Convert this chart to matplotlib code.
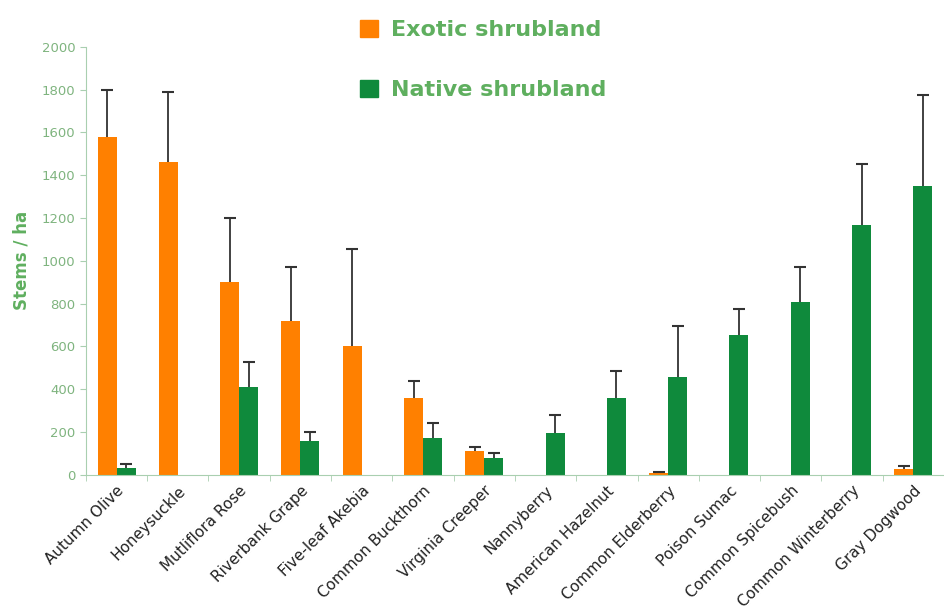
import numpy as np
import matplotlib.pyplot as plt
from matplotlib.patches import Patch

species = ['Autumn Olive', 'Honeysuckle', 'Mutliflora Rose', 'Riverbank Grape',
           'Five-leaf Akebia', 'Common Buckthorn', 'Virginia Creeper', 'Nannyberry',
           'American Hazelnut', 'Common Elderberry', 'Poison Sumac', 'Common Spicebush',
           'Common Winterberry', 'Gray Dogwood']
exotic = [1580, 1460, 900, 720, 600, 360, 110, 0, 0, 8, 0, 0, 0, 25]
exotic_top = [1800, 1790, 1200, 970, 1055, 440, 130, 0, 0, 12, 0, 0, 0, 40]
native = [30, 0, 410, 160, 0, 170, 80, 195, 360, 455, 655, 805, 1165, 1350]
native_top = [50, 0, 525, 200, 0, 240, 100, 280, 485, 695, 775, 970, 1450, 1775]

orange = '#ff8000'
green = '#0f8a3c'
txtgreen = '#5faf5f'
axcol = '#a9cfb0'

plt.rcParams['font.family'] = 'DejaVu Sans'
fig = plt.figure(figsize=(9.44, 6.15), dpi=100)
ax = fig.add_axes([0.091, 0.228, 0.909, 0.696])

x = np.arange(len(species))
w = 0.31
ex = np.array(exotic)
na = np.array(native)

ax.bar(x - w / 2, ex, w, color=orange)
ax.bar(x + w / 2, na, w, color=green)

# upper error bars only: stem from bar top plus a cap
for pos, val, top in [(x - w / 2, ex, np.array(exotic_top)), (x + w / 2, na, np.array(native_top))]:
    m = top > 0
    ax.vlines(pos[m], val[m], top[m], color='#333333', lw=1.3, zorder=3)
    ax.plot(pos[m], top[m], ls='none', marker='_', ms=8, mew=1.5, color='#333333', zorder=3)

ax.set_xlim(-0.5, len(species) - 0.5)
ax.set_ylim(0, 2000)
ax.set_yticks(range(0, 2001, 200))
ax.tick_params(axis='y', colors=axcol, labelcolor='#7fb47f', labelsize=9.5, length=4)
ax.set_xticks(x)
ax.set_xticklabels(species, rotation=45, ha='right', rotation_mode='anchor',
                   fontsize=11, color='#222222')
ax.tick_params(axis='x', length=0, pad=6)
ax.set_xticks(np.arange(-0.5, len(species)), minor=True)
ax.tick_params(axis='x', which='minor', length=4, colors=axcol)

for s in ['top', 'right']:
    ax.spines[s].set_visible(False)
for s in ['left', 'bottom']:
    ax.spines[s].set_color(axcol)

ax.set_ylabel('Stems / ha', fontsize=12, fontweight='bold', color=txtgreen, labelpad=8)

handles = [Patch(color=orange), Patch(color=green)]
leg = ax.legend(handles, ['Exotic shrubland', 'Native shrubland'], loc='upper left',
                bbox_to_anchor=(0.36, 1.0), bbox_transform=fig.transFigure,
                frameon=False, handlelength=0.8, handleheight=0.8, handletextpad=0.6,
                labelspacing=1.8, prop={'size': 16, 'weight': 'bold'})
for t in leg.get_texts():
    t.set_color(txtgreen)

fig.savefig('out.png', dpi=100)
